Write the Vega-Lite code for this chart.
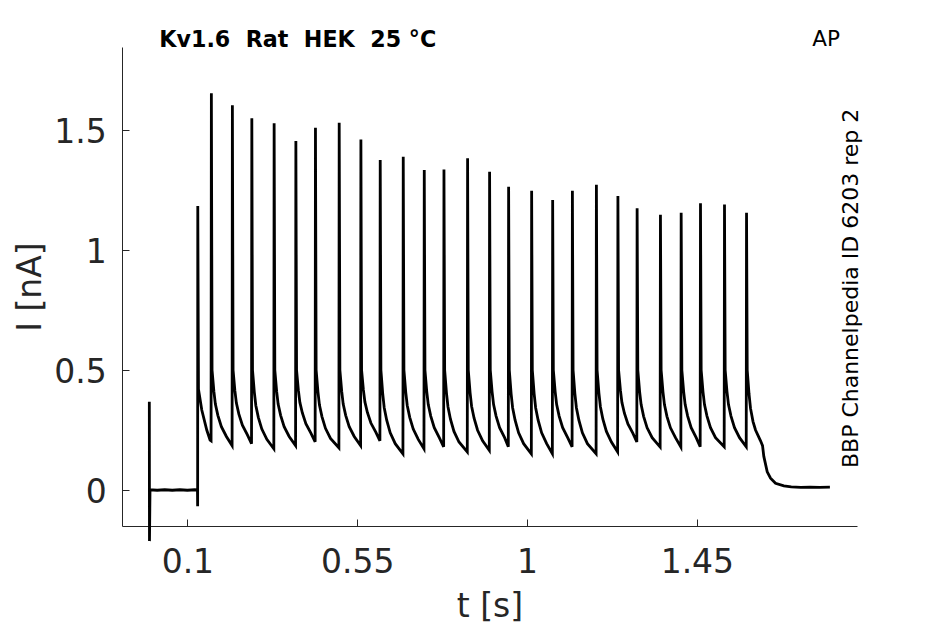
{
  "$schema": "https://vega.github.io/schema/vega-lite/v6.json",
  "width": 735,
  "height": 479,
  "autosize": {"type": "none"},
  "padding": {"left": 122, "top": 47, "right": 88, "bottom": 98},
  "background": "white",
  "config": {
    "view": {"stroke": null},
    "font": "DejaVu Sans",
    "axis": {
      "grid": false,
      "domainColor": "#262626",
      "tickColor": "#262626",
      "labelColor": "#262626",
      "titleColor": "#262626",
      "labelFont": "DejaVu Sans",
      "titleFont": "DejaVu Sans",
      "labelFontSize": 33,
      "titleFontSize": 33,
      "titleFontWeight": "normal",
      "tickSize": -7,
      "tickWidth": 1,
      "labelFlush": false,
      "labelOverlap": false,
      "format": ".3~g"
    }
  },
  "datasets": {
    "trace": [
      {"t": -0.0008, "I": 0.368}, {"t": -0.0004, "I": -0.213}, {"t": 0.001, "I": 0.001},
      {"t": 0.02, "I": -0.001}, {"t": 0.04, "I": 0.001}, {"t": 0.06, "I": -0.001},
      {"t": 0.08, "I": 0.001}, {"t": 0.1, "I": -0.001}, {"t": 0.12, "I": 0.001},
      {"t": 0.1268, "I": 0.0},
      {"t": 0.1272, "I": -0.068}, {"t": 0.1276, "I": 1.183}, {"t": 0.1294, "I": 0.42},
      {"t": 0.1382, "I": 0.333}, {"t": 0.1514, "I": 0.25}, {"t": 0.1602, "I": 0.208},
      {"t": 0.1628, "I": 0.205},
      {"t": 0.1636, "I": 1.653}, {"t": 0.1654, "I": 0.5}, {"t": 0.1702, "I": 0.412}, {"t": 0.1742, "I": 0.358}, {"t": 0.1808, "I": 0.311}, {"t": 0.1901, "I": 0.264}, {"t": 0.2034, "I": 0.223}, {"t": 0.2185, "I": 0.185},
      {"t": 0.2193, "I": 1.603}, {"t": 0.2211, "I": 0.5}, {"t": 0.2259, "I": 0.414}, {"t": 0.2299, "I": 0.362}, {"t": 0.2365, "I": 0.316}, {"t": 0.2458, "I": 0.27}, {"t": 0.2591, "I": 0.23}, {"t": 0.27, "I": 0.193},
      {"t": 0.2708, "I": 1.549}, {"t": 0.2726, "I": 0.5}, {"t": 0.2774, "I": 0.408}, {"t": 0.2814, "I": 0.352}, {"t": 0.288, "I": 0.303}, {"t": 0.2973, "I": 0.254}, {"t": 0.3106, "I": 0.211}, {"t": 0.3291, "I": 0.172},
      {"t": 0.3299, "I": 1.528}, {"t": 0.3317, "I": 0.5}, {"t": 0.3365, "I": 0.412}, {"t": 0.3405, "I": 0.358}, {"t": 0.3471, "I": 0.311}, {"t": 0.3564, "I": 0.264}, {"t": 0.3697, "I": 0.223}, {"t": 0.3867, "I": 0.185},
      {"t": 0.3875, "I": 1.454}, {"t": 0.3893, "I": 0.5}, {"t": 0.3941, "I": 0.416}, {"t": 0.3981, "I": 0.365}, {"t": 0.4047, "I": 0.321}, {"t": 0.414, "I": 0.276}, {"t": 0.4273, "I": 0.237}, {"t": 0.4386, "I": 0.201},
      {"t": 0.4394, "I": 1.51}, {"t": 0.4412, "I": 0.5}, {"t": 0.446, "I": 0.409}, {"t": 0.45, "I": 0.354}, {"t": 0.4566, "I": 0.306}, {"t": 0.4659, "I": 0.257}, {"t": 0.4792, "I": 0.215}, {"t": 0.5015, "I": 0.176},
      {"t": 0.5023, "I": 1.53}, {"t": 0.5041, "I": 0.5}, {"t": 0.5089, "I": 0.412}, {"t": 0.5129, "I": 0.358}, {"t": 0.5195, "I": 0.311}, {"t": 0.5288, "I": 0.264}, {"t": 0.5421, "I": 0.223}, {"t": 0.559, "I": 0.185},
      {"t": 0.5598, "I": 1.461}, {"t": 0.5616, "I": 0.5}, {"t": 0.5664, "I": 0.417}, {"t": 0.5704, "I": 0.367}, {"t": 0.577, "I": 0.323}, {"t": 0.5863, "I": 0.279}, {"t": 0.5996, "I": 0.24}, {"t": 0.6102, "I": 0.205},
      {"t": 0.611, "I": 1.375}, {"t": 0.6128, "I": 0.5}, {"t": 0.6176, "I": 0.402}, {"t": 0.6216, "I": 0.343}, {"t": 0.6282, "I": 0.291}, {"t": 0.6375, "I": 0.238}, {"t": 0.6508, "I": 0.193}, {"t": 0.6712, "I": 0.151},
      {"t": 0.672, "I": 1.389}, {"t": 0.6738, "I": 0.5}, {"t": 0.6786, "I": 0.408}, {"t": 0.6826, "I": 0.352}, {"t": 0.6892, "I": 0.303}, {"t": 0.6985, "I": 0.254}, {"t": 0.7118, "I": 0.211}, {"t": 0.7269, "I": 0.172},
      {"t": 0.7277, "I": 1.333}, {"t": 0.7295, "I": 0.5}, {"t": 0.7343, "I": 0.41}, {"t": 0.7383, "I": 0.356}, {"t": 0.7449, "I": 0.308}, {"t": 0.7542, "I": 0.26}, {"t": 0.7675, "I": 0.218}, {"t": 0.7791, "I": 0.18},
      {"t": 0.7799, "I": 1.336}, {"t": 0.7817, "I": 0.5}, {"t": 0.7865, "I": 0.405}, {"t": 0.7905, "I": 0.347}, {"t": 0.7971, "I": 0.295}, {"t": 0.8064, "I": 0.244}, {"t": 0.8197, "I": 0.2}, {"t": 0.8417, "I": 0.159},
      {"t": 0.8425, "I": 1.382}, {"t": 0.8443, "I": 0.5}, {"t": 0.8491, "I": 0.406}, {"t": 0.8531, "I": 0.349}, {"t": 0.8597, "I": 0.299}, {"t": 0.869, "I": 0.249}, {"t": 0.8823, "I": 0.205}, {"t": 0.9, "I": 0.165},
      {"t": 0.9008, "I": 1.326}, {"t": 0.9026, "I": 0.5}, {"t": 0.9074, "I": 0.41}, {"t": 0.9114, "I": 0.356}, {"t": 0.918, "I": 0.308}, {"t": 0.9273, "I": 0.26}, {"t": 0.9406, "I": 0.218}, {"t": 0.9504, "I": 0.18},
      {"t": 0.9512, "I": 1.264}, {"t": 0.953, "I": 0.5}, {"t": 0.9578, "I": 0.402}, {"t": 0.9618, "I": 0.343}, {"t": 0.9684, "I": 0.291}, {"t": 0.9777, "I": 0.238}, {"t": 0.991, "I": 0.193}, {"t": 1.0114, "I": 0.151},
      {"t": 1.0122, "I": 1.247}, {"t": 1.014, "I": 0.5}, {"t": 1.0188, "I": 0.402}, {"t": 1.0228, "I": 0.343}, {"t": 1.0294, "I": 0.291}, {"t": 1.0387, "I": 0.238}, {"t": 1.052, "I": 0.193}, {"t": 1.0671, "I": 0.151},
      {"t": 1.0679, "I": 1.208}, {"t": 1.0697, "I": 0.5}, {"t": 1.0745, "I": 0.41}, {"t": 1.0785, "I": 0.356}, {"t": 1.0851, "I": 0.308}, {"t": 1.0944, "I": 0.26}, {"t": 1.1077, "I": 0.218}, {"t": 1.1194, "I": 0.18},
      {"t": 1.1202, "I": 1.247}, {"t": 1.122, "I": 0.5}, {"t": 1.1268, "I": 0.402}, {"t": 1.1308, "I": 0.343}, {"t": 1.1374, "I": 0.291}, {"t": 1.1467, "I": 0.238}, {"t": 1.16, "I": 0.193}, {"t": 1.183, "I": 0.151},
      {"t": 1.1838, "I": 1.272}, {"t": 1.1856, "I": 0.5}, {"t": 1.1904, "I": 0.405}, {"t": 1.1944, "I": 0.347}, {"t": 1.201, "I": 0.295}, {"t": 1.2103, "I": 0.244}, {"t": 1.2236, "I": 0.2}, {"t": 1.24, "I": 0.159},
      {"t": 1.2408, "I": 1.225}, {"t": 1.2426, "I": 0.5}, {"t": 1.2474, "I": 0.416}, {"t": 1.2514, "I": 0.365}, {"t": 1.258, "I": 0.32}, {"t": 1.2673, "I": 0.275}, {"t": 1.2806, "I": 0.236}, {"t": 1.2909, "I": 0.2},
      {"t": 1.2917, "I": 1.174}, {"t": 1.2935, "I": 0.5}, {"t": 1.2983, "I": 0.41}, {"t": 1.3023, "I": 0.356}, {"t": 1.3089, "I": 0.307}, {"t": 1.3182, "I": 0.259}, {"t": 1.3315, "I": 0.218}, {"t": 1.3527, "I": 0.179},
      {"t": 1.3535, "I": 1.147}, {"t": 1.3553, "I": 0.5}, {"t": 1.3601, "I": 0.41}, {"t": 1.3641, "I": 0.356}, {"t": 1.3707, "I": 0.307}, {"t": 1.38, "I": 0.259}, {"t": 1.3933, "I": 0.218}, {"t": 1.4076, "I": 0.179},
      {"t": 1.4084, "I": 1.155}, {"t": 1.4102, "I": 0.5}, {"t": 1.415, "I": 0.41}, {"t": 1.419, "I": 0.356}, {"t": 1.4256, "I": 0.308}, {"t": 1.4349, "I": 0.26}, {"t": 1.4482, "I": 0.218}, {"t": 1.4588, "I": 0.18},
      {"t": 1.4596, "I": 1.195}, {"t": 1.4614, "I": 0.5}, {"t": 1.4662, "I": 0.41}, {"t": 1.4702, "I": 0.356}, {"t": 1.4768, "I": 0.308}, {"t": 1.4861, "I": 0.26}, {"t": 1.4994, "I": 0.218}, {"t": 1.5224, "I": 0.18},
      {"t": 1.5232, "I": 1.19}, {"t": 1.525, "I": 0.5}, {"t": 1.5298, "I": 0.41}, {"t": 1.5338, "I": 0.356}, {"t": 1.5404, "I": 0.308}, {"t": 1.5497, "I": 0.26}, {"t": 1.563, "I": 0.218}, {"t": 1.5808, "I": 0.18},
      {"t": 1.5816, "I": 1.155}, {"t": 1.5834, "I": 0.5}, {"t": 1.5882, "I": 0.4}, {"t": 1.5922, "I": 0.34}, {"t": 1.5988, "I": 0.285}, {"t": 1.6054, "I": 0.25},
      {"t": 1.6187, "I": 0.205}, {"t": 1.624, "I": 0.185}, {"t": 1.6274, "I": 0.14}, {"t": 1.6364, "I": 0.076}, {"t": 1.6452, "I": 0.049}, {"t": 1.6584, "I": 0.028},
      {"t": 1.6805, "I": 0.017}, {"t": 1.7, "I": 0.013}, {"t": 1.725, "I": 0.011}, {"t": 1.75, "I": 0.012}, {"t": 1.775, "I": 0.011}, {"t": 1.8025, "I": 0.012}
    ],
    "notes": [
      {"t": 0.0257, "I": 1.846, "label": "Kv1.6\u00a0\u00a0Rat\u00a0\u00a0HEK\u00a0\u00a025 °C", "kind": "title"},
      {"t": 1.7558, "I": 1.85, "label": "AP", "kind": "tag"},
      {"t": 1.8759, "I": 0.84, "label": "BBP Channelpedia ID 6203 rep 2", "kind": "note"}
    ]
  },
  "encoding": {
    "x": {
      "field": "t",
      "type": "quantitative",
      "scale": {"domain": [-0.0732, 1.8743], "nice": false, "zero": false},
      "axis": {
        "values": [0.1, 0.55, 1, 1.45],
        "title": "t [s]",
        "labelBaseline": "alphabetic",
        "labelPadding": 53.7,
        "titleBaseline": "alphabetic",
        "titleY": 90
      }
    },
    "y": {
      "field": "I",
      "type": "quantitative",
      "scale": {"domain": [-0.15, 1.846], "nice": false, "zero": false},
      "axis": {
        "values": [0, 0.5, 1, 1.5],
        "title": "I [nA]",
        "labelBaseline": "alphabetic",
        "labelOffset": 12,
        "labelPadding": 22.7,
        "titleBaseline": "alphabetic",
        "titleX": -82,
        "titleY": 239.5,
        "titleAngle": -90
      }
    }
  },
  "layer": [
    {
      "data": {"name": "trace"},
      "mark": {"type": "line", "color": "black", "strokeWidth": 2.8}
    },
    {
      "data": {"name": "notes"},
      "transform": [{"filter": "datum.kind == 'title'"}],
      "mark": {"type": "text", "align": "left", "baseline": "alphabetic", "fontSize": 22.2, "fontWeight": "bold", "color": "black"},
      "encoding": {"text": {"field": "label"}}
    },
    {
      "data": {"name": "notes"},
      "transform": [{"filter": "datum.kind == 'tag'"}],
      "mark": {"type": "text", "align": "left", "baseline": "alphabetic", "fontSize": 21.5, "color": "black"},
      "encoding": {"text": {"field": "label"}}
    },
    {
      "data": {"name": "notes"},
      "transform": [{"filter": "datum.kind == 'note'"}],
      "mark": {"type": "text", "align": "center", "baseline": "alphabetic", "angle": 270, "fontSize": 22, "color": "black"},
      "encoding": {"text": {"field": "label"}}
    }
  ]
}
